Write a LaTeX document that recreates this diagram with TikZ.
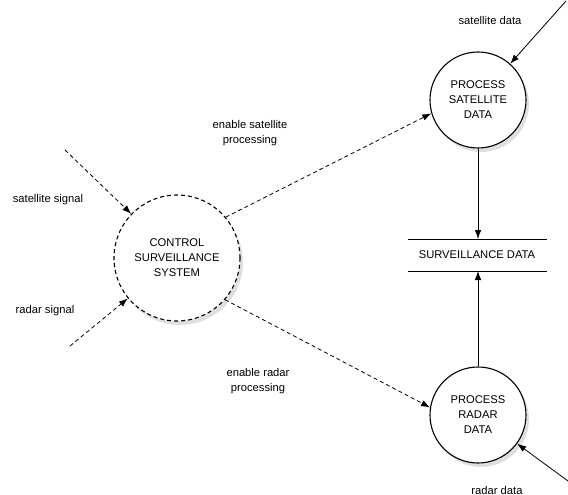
\documentclass[tikz,border=0pt]{standalone}
\usepackage{fontspec}
\setmainfont{Liberation Sans}
\usetikzlibrary{arrows.meta, shadows}

\begin{document}
\begin{tikzpicture}[x=1pt, y=-1pt, >={Latex[length=9pt, width=6.5pt]},
    font=\fontsize{11.2}{15}\selectfont,
    process/.style={circle, draw, line width=1.1pt, fill=white, align=center, inner sep=0pt,
      drop shadow={opacity=0.25, shadow xshift=3pt, shadow yshift=-4pt}},
    flow/.style={->, line width=0.8pt},
    ctrlflow/.style={->, line width=0.8pt, dash pattern=on 4pt off 3pt}]
    \useasboundingbox (0,0) rectangle (568,495);

    % Processes
    \node[process, dash pattern=on 4pt off 3pt, minimum size=126pt] (control) at (177,258) {CONTROL\\SURVEILLANCE\\SYSTEM};
    \node[process, minimum size=96pt] (sat) at (478,100) {PROCESS\\SATELLITE\\DATA};
    \node[process, minimum size=96pt] (radar) at (478,415) {PROCESS\\RADAR\\DATA};

    % Data store
    \node (store) at (477,255) {SURVEILLANCE DATA};
    \draw[line width=0.8pt] (408,239) -- (547,239);
    \draw[line width=0.8pt] (408,271) -- (547,271);
    \coordinate (storetop) at (478,239);
    \coordinate (storebot) at (478,271);

    % Free ends
    \coordinate (satsig) at (65,150);
    \coordinate (radsig) at (70,346);
    \coordinate (satin) at (566,1);
    \coordinate (radin) at (568,481);

    % Flows
    \draw[ctrlflow] (satsig) -- (control);
    \draw[ctrlflow] (radsig) -- (control);
    \draw[ctrlflow] (control.40) -- (sat.196);
    \draw[ctrlflow] (control.-41) -- (radar.171);
    \draw[flow] (satin) -- (sat);
    \draw[flow] (radin) -- (radar);
    \draw[flow] (sat) -- (storetop);
    \draw[flow] (radar) -- (storebot);

    % Labels
    \node (lsatsig) at (48,200) {satellite signal};
    \node (lradsig) at (45,311) {radar signal};
    \node[align=center] (lensat) at (250,133) {enable satellite\\processing};
    \node[align=center] (lenrad) at (258,381) {enable radar\\processing};
    \node (lsatin) at (490,20) {satellite data};
    \node (lradin) at (497,490) {radar data};
\end{tikzpicture}
\end{document}
